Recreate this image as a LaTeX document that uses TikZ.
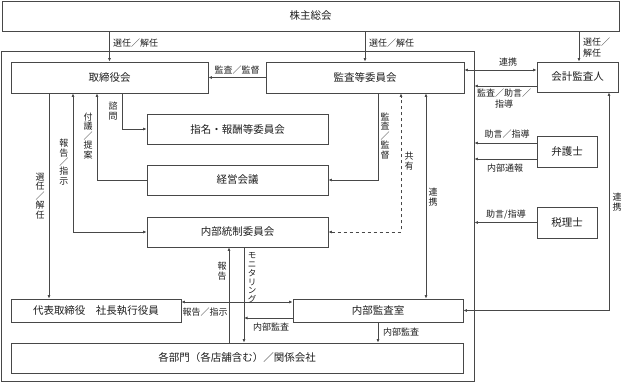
\documentclass[tikz,border=0pt]{standalone}
\usepackage{fontspec}
\setmainfont{Noto Sans CJK JP}
\usetikzlibrary{arrows.meta}
\definecolor{lc}{RGB}{72,72,72}
\definecolor{tc}{RGB}{30,30,30}
\tikzset{
  box/.style={draw=lc, line width=0.8pt, fill=white, inner sep=0pt, text=tc,
    font=\fontsize{10.5}{12}\selectfont},
  lab/.style={inner sep=0pt, text=tc, font=\fontsize{9}{11}\selectfont},
  vlab/.style={inner sep=0pt, text=tc, align=center, font=\fontsize{9}{9.4}\selectfont},
  vlabk/.style={inner sep=0pt, text=tc, align=center, font=\fontsize{8.5}{8.7}\selectfont},
  con/.style={draw=lc, line width=0.8pt, -{Latex[length=3.5pt,width=3pt]}},
  con2/.style={draw=lc, line width=0.8pt, {Latex[length=3.5pt,width=3pt]}-{Latex[length=3.5pt,width=3pt]}}
}
\begin{document}
\begin{tikzpicture}[x=1pt,y=-1pt]
\useasboundingbox (0,0) rectangle (622,383);
% frame
\node[draw=lc, line width=0.8pt, minimum width=473, minimum height=330, inner sep=0pt] (frame) at (237.5,216) {};
% boxes
\node[box, minimum width=617, minimum height=30] (top) at (310.5,16) {株主総会};
\node[box, minimum width=197, minimum height=31] (tori) at (109.5,77.5) {取締役会};
\node[box, minimum width=198, minimum height=31] (kansa) at (365,77.5) {監査等委員会};
\node[box, minimum width=81, minimum height=30] (kaikei) at (577.5,77) {会計監査人};
\node[box, minimum width=181, minimum height=30] (shimei) at (237.5,129) {指名・報酬等委員会};
\node[box, minimum width=181, minimum height=30] (keiei) at (237.5,180) {経営会議};
\node[box, minimum width=181, minimum height=30] (tousei) at (237.5,232) {内部統制委員会};
\node[box, minimum width=60, minimum height=31] (bengo) at (567,151.5) {弁護士};
\node[box, minimum width=60, minimum height=31] (zei) at (567,222.5) {税理士};
\node[box, minimum width=170, minimum height=23] (daihyo) at (96,310.5) {代表取締役\quad 社長執行役員};
\node[box, minimum width=170, minimum height=23] (shitsu) at (378,310.5) {内部監査室};
\node[box, minimum width=452, minimum height=30] (kaku) at (237,358) {各部門（各店舗含む）／関係会社};
% helper coordinates
\coordinate (x49) at (49,0);
\coordinate (x73) at (73,0);
\coordinate (x97) at (97,0);
\coordinate (x122) at (122,0);
\coordinate (x229) at (229,0);
\coordinate (x244) at (244,0);
\coordinate (x378) at (378,0);
\coordinate (x401) at (401,0);
\coordinate (x426) at (426,0);
\coordinate (x579) at (579,0);
\coordinate (x609) at (609,0);
\coordinate (y70) at (0,70);
\coordinate (y86) at (0,86);
\coordinate (y143) at (0,143);
\coordinate (y159) at (0,159);
\coordinate (y302) at (0,302);
\coordinate (y318) at (0,318);
\coordinate (mon) at (x244 |- y318);
% connectors
\draw[con] (top.south -| tori.north) -- (tori.north);
\draw[con] (top.south -| kansa.north) -- (kansa.north);
\draw[con] (top.south -| x579) -- (kaikei.north -| x579);
\draw[con] (kansa.west) -- (tori.east);
\draw[con2] (kansa.east |- y70) -- (kaikei.west |- y70);
\draw[con] (kaikei.west |- y86) -- (frame.east |- y86);
\draw[con] (tori.south -| x49) -- (daihyo.north -| x49);
\draw[con2] (tori.south -| x73) |- (tousei.west);
\draw[con] (keiei.west) -| (tori.south -| x97);
\draw[con] (tori.south -| x122) |- (shimei.west);
\draw[con] (kansa.south -| x378) |- (keiei.east);
\draw[con2, dashed] (tousei.east) -| (kansa.south -| x401);
\draw[con2] (kansa.south -| x426) -- (shitsu.north -| x426);
\draw[con] (bengo.west |- y143) -- (frame.east |- y143);
\draw[con] (bengo.west |- y159) -- (frame.east |- y159);
\draw[con] (zei.west) -- (frame.east |- zei.west);
\draw[con2] (kaikei.south -| x609) |- (shitsu.east);
\draw[con2] (daihyo.east |- y302) -- (shitsu.west |- y302);
\draw[con] (kaku.north -| x229) -- (tousei.south -| x229);
\draw[con] (tousei.south -| x244) -- (kaku.north -| x244);
\draw[con] (shitsu.west |- y318) -- (mon);
\draw[con] (shitsu.south) -- (kaku.north -| shitsu.south);
% labels
\node[lab, anchor=west] at (113,43) {選任／解任};
\node[lab, anchor=west] at (369,43) {選任／解任};
\node[lab, anchor=west, align=left] at (583,48) {選任／\\解任};
\node[lab] at (237,70) {監査／監督};
\node[lab] at (508,62) {連携};
\node[lab, align=center] at (504,99) {監査／助言／\\指導};
\node[vlab] at (40,196) {選\\任\\／\\解\\任};
\node[vlab] at (64,162) {報\\告\\／\\指\\示};
\node[vlab] at (88,136) {付\\議\\／\\提\\案};
\node[vlab] at (113,111) {諮\\問};
\node[vlab] at (385,136) {監\\査\\／\\監\\督};
\node[vlab] at (409,161) {共\\有};
\node[vlab] at (433,197) {連\\携};
\node[lab] at (507,134) {助言／指導};
\node[lab] at (505,168) {内部通報};
\node[lab] at (506,215) {助言/指導};
\node[vlab] at (617,202) {連\\携};
\node[vlab] at (222,271) {報\\告};
\node[vlabk] at (252,278) {モ\\ニ\\タ\\リ\\ン\\グ};
\node[lab] at (205,312) {報告／指示};
\node[lab] at (271,327) {内部監査};
\node[lab] at (401,332) {内部監査};
\end{tikzpicture}
\end{document}
